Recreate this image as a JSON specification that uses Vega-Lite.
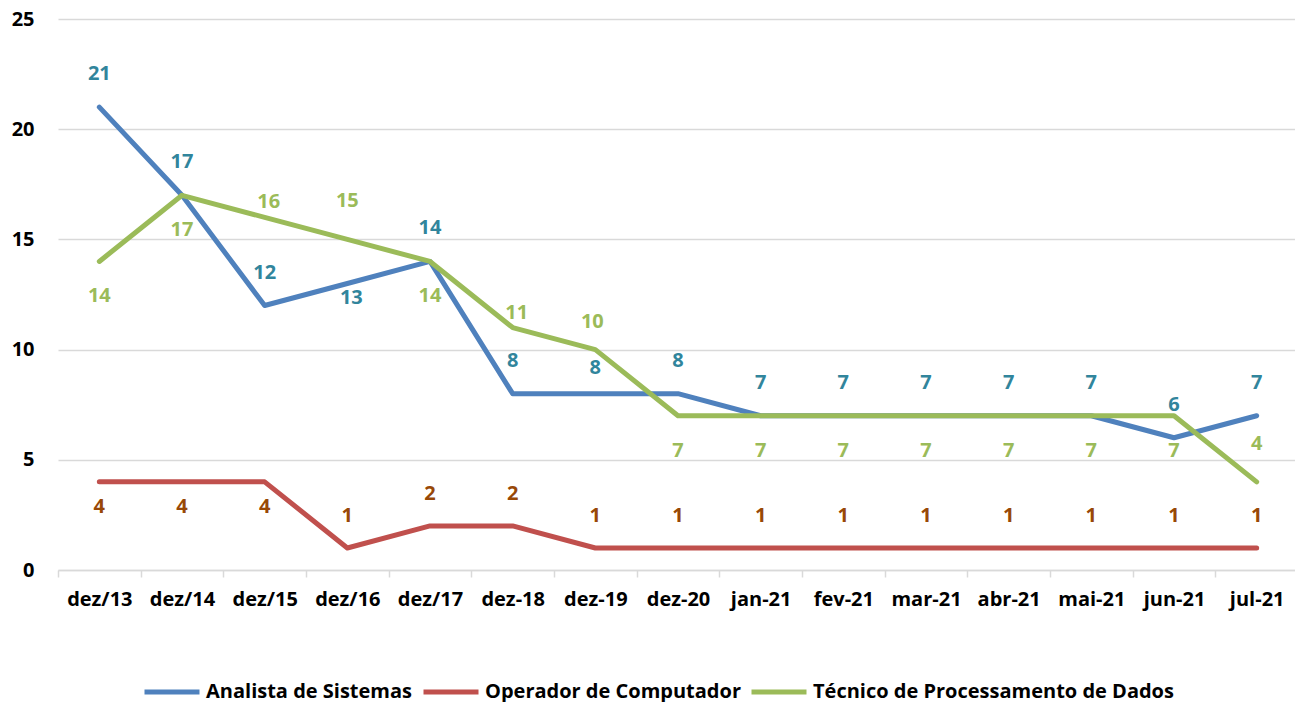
{
  "$schema": "https://vega.github.io/schema/vega-lite/v6.json",
  "autosize": {"type": "none"},
  "padding": {"left": 58, "top": 19, "right": 0, "bottom": 132},
  "width": 1237,
  "height": 551,
  "background": "white",
  "config": {
    "view": {"stroke": null},
    "font": "Open Sans",
    "text": {"font": "Open Sans", "fontWeight": "bold", "fontSize": 20, "baseline": "middle", "align": "center"}
  },
  "data": {"values": [
    {"cat": "dez/13", "series": "Analista de Sistemas", "value": 21},
    {"cat": "dez/14", "series": "Analista de Sistemas", "value": 17},
    {"cat": "dez/15", "series": "Analista de Sistemas", "value": 12},
    {"cat": "dez/16", "series": "Analista de Sistemas", "value": 13},
    {"cat": "dez/17", "series": "Analista de Sistemas", "value": 14},
    {"cat": "dez-18", "series": "Analista de Sistemas", "value": 8},
    {"cat": "dez-19", "series": "Analista de Sistemas", "value": 8},
    {"cat": "dez-20", "series": "Analista de Sistemas", "value": 8},
    {"cat": "jan-21", "series": "Analista de Sistemas", "value": 7},
    {"cat": "fev-21", "series": "Analista de Sistemas", "value": 7},
    {"cat": "mar-21", "series": "Analista de Sistemas", "value": 7},
    {"cat": "abr-21", "series": "Analista de Sistemas", "value": 7},
    {"cat": "mai-21", "series": "Analista de Sistemas", "value": 7},
    {"cat": "jun-21", "series": "Analista de Sistemas", "value": 6},
    {"cat": "jul-21", "series": "Analista de Sistemas", "value": 7},
    {"cat": "dez/13", "series": "Operador de Computador", "value": 4},
    {"cat": "dez/14", "series": "Operador de Computador", "value": 4},
    {"cat": "dez/15", "series": "Operador de Computador", "value": 4},
    {"cat": "dez/16", "series": "Operador de Computador", "value": 1},
    {"cat": "dez/17", "series": "Operador de Computador", "value": 2},
    {"cat": "dez-18", "series": "Operador de Computador", "value": 2},
    {"cat": "dez-19", "series": "Operador de Computador", "value": 1},
    {"cat": "dez-20", "series": "Operador de Computador", "value": 1},
    {"cat": "jan-21", "series": "Operador de Computador", "value": 1},
    {"cat": "fev-21", "series": "Operador de Computador", "value": 1},
    {"cat": "mar-21", "series": "Operador de Computador", "value": 1},
    {"cat": "abr-21", "series": "Operador de Computador", "value": 1},
    {"cat": "mai-21", "series": "Operador de Computador", "value": 1},
    {"cat": "jun-21", "series": "Operador de Computador", "value": 1},
    {"cat": "jul-21", "series": "Operador de Computador", "value": 1},
    {"cat": "dez/13", "series": "Técnico de Processamento de Dados", "value": 14},
    {"cat": "dez/14", "series": "Técnico de Processamento de Dados", "value": 17},
    {"cat": "dez/15", "series": "Técnico de Processamento de Dados", "value": 16},
    {"cat": "dez/16", "series": "Técnico de Processamento de Dados", "value": 15},
    {"cat": "dez/17", "series": "Técnico de Processamento de Dados", "value": 14},
    {"cat": "dez-18", "series": "Técnico de Processamento de Dados", "value": 11},
    {"cat": "dez-19", "series": "Técnico de Processamento de Dados", "value": 10},
    {"cat": "dez-20", "series": "Técnico de Processamento de Dados", "value": 7},
    {"cat": "jan-21", "series": "Técnico de Processamento de Dados", "value": 7},
    {"cat": "fev-21", "series": "Técnico de Processamento de Dados", "value": 7},
    {"cat": "mar-21", "series": "Técnico de Processamento de Dados", "value": 7},
    {"cat": "abr-21", "series": "Técnico de Processamento de Dados", "value": 7},
    {"cat": "mai-21", "series": "Técnico de Processamento de Dados", "value": 7},
    {"cat": "jun-21", "series": "Técnico de Processamento de Dados", "value": 7},
    {"cat": "jul-21", "series": "Técnico de Processamento de Dados", "value": 4}
  ]},
  "encoding": {
    "x": {
      "field": "cat", "type": "nominal", "sort": null, "title": null,
      "scale": {"type": "band", "paddingInner": 0, "paddingOuter": 0, "range": [0, 1240]},
      "axis": {
        "labelAngle": 0, "labelFont": "Open Sans", "labelFontWeight": "bold", "labelFontSize": 20, "labelColor": "#000000",
        "labelPadding": 12, "tickBand": "extent", "tickSize": 7, "tickColor": "#D9D9D9", "tickWidth": 1.5,
        "domainColor": "#D9D9D9", "domainWidth": 1.5, "grid": false
      }
    },
    "y": {
      "field": "value", "type": "quantitative", "title": null,
      "scale": {"domain": [0, 25], "nice": false},
      "axis": {
        "values": [0, 5, 10, 15, 20, 25], "labelFont": "Open Sans", "labelFontWeight": "bold", "labelFontSize": 20, "labelColor": "#000000",
        "labelPadding": 24, "ticks": false, "domain": false, "grid": true, "gridColor": "#D9D9D9", "gridWidth": 1.5
      }
    }
  },
  "layer": [
    {
      "mark": {"type": "line", "strokeWidth": 5, "strokeCap": "round", "strokeJoin": "round"},
      "encoding": {
        "color": {
          "field": "series", "type": "nominal", "title": null,
          "scale": {"domain": ["Analista de Sistemas", "Operador de Computador", "Técnico de Processamento de Dados"], "range": ["#4F81BD", "#C0504D", "#9BBB59"]},
          "legend": {
            "orient": "none", "legendX": 84, "legendY": 643, "direction": "horizontal",
            "symbolType": "stroke", "symbolSize": 3025, "symbolStrokeWidth": 5,
            "labelFont": "Open Sans", "labelFontWeight": "bold", "labelFontSize": 20, "labelColor": "#000000",
            "labelOffset": 4, "columnPadding": 0, "labelLimit": 500
          }
        }
      }
    },
    {
      "transform": [{"filter": "datum.series === 'Analista de Sistemas' && indexof(['dez/16','dez-19'], datum.cat) < 0"}],
      "mark": {"type": "text", "dy": -33, "color": "#31859C"},
      "encoding": {"text": {"field": "value"}}
    },
    {
      "transform": [{"filter": "datum.series === 'Analista de Sistemas' && datum.cat === 'dez/16'"}],
      "mark": {"type": "text", "dy": 15, "dx": 4, "color": "#31859C"},
      "encoding": {"text": {"field": "value"}}
    },
    {
      "transform": [{"filter": "datum.series === 'Analista de Sistemas' && datum.cat === 'dez-19'"}],
      "mark": {"type": "text", "dy": -26, "color": "#31859C"},
      "encoding": {"text": {"field": "value"}}
    },
    {
      "transform": [{"filter": "datum.series === 'Operador de Computador' && indexof(['dez/13','dez/14','dez/15'], datum.cat) >= 0"}],
      "mark": {"type": "text", "dy": 25, "color": "#984807"},
      "encoding": {"text": {"field": "value"}}
    },
    {
      "transform": [{"filter": "datum.series === 'Operador de Computador' && indexof(['dez/13','dez/14','dez/15'], datum.cat) < 0"}],
      "mark": {"type": "text", "dy": -32, "color": "#984807"},
      "encoding": {"text": {"field": "value"}}
    },
    {
      "transform": [{"filter": "datum.series === 'Técnico de Processamento de Dados' && indexof(['dez/13','dez/14','dez/17','dez-20','jan-21','fev-21','mar-21','abr-21','mai-21','jun-21'], datum.cat) >= 0"}],
      "mark": {"type": "text", "dy": 35, "color": "#9BBB59"},
      "encoding": {"text": {"field": "value"}}
    },
    {
      "transform": [{"filter": "datum.series === 'Técnico de Processamento de Dados' && indexof(['dez/15','dez-18'], datum.cat) >= 0"}],
      "mark": {"type": "text", "dy": -15, "dx": 4, "color": "#9BBB59"},
      "encoding": {"text": {"field": "value"}}
    },
    {
      "transform": [{"filter": "datum.series === 'Técnico de Processamento de Dados' && indexof(['dez/16','jul-21'], datum.cat) >= 0"}],
      "mark": {"type": "text", "dy": -38, "color": "#9BBB59"},
      "encoding": {"text": {"field": "value"}}
    },
    {
      "transform": [{"filter": "datum.series === 'Técnico de Processamento de Dados' && datum.cat === 'dez-19'"}],
      "mark": {"type": "text", "dy": -28, "dx": -3, "color": "#9BBB59"},
      "encoding": {"text": {"field": "value"}}
    }
  ]
}
